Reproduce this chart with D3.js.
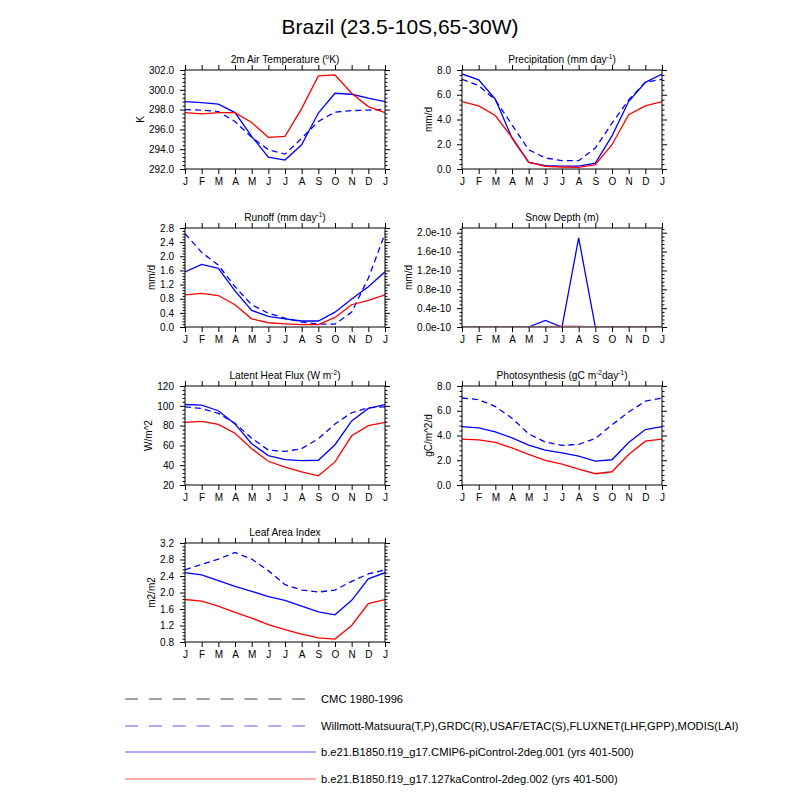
<!DOCTYPE html>
<html>
<head>
<meta charset="utf-8">
<script src="https://cdn.jsdelivr.net/npm/d3@7"></script>
<style>
  body { margin: 0; background: #fff; }
  svg { font-family: "Liberation Sans", Arial, Helvetica, sans-serif; }
</style>
</head>
<body>
<svg id="chart" width="800" height="800"></svg>
<script>
// ---------------- data ----------------
const months = ["J","F","M","A","M","J","J","A","S","O","N","D","J"];

// 2m air temperature (K)
const tsaObs = [298.0, 297.95, 297.8, 296.8, 295.2, 293.95, 293.5, 295.1, 296.8, 297.75, 297.9, 297.95, 298.0];
const tsaCtl = [298.8, 298.7, 298.55, 297.7, 295.3, 293.2, 292.9, 294.45, 297.65, 299.65, 299.55, 299.15, 298.8];
const tsa127 = [297.7, 297.57, 297.7, 297.7, 296.7, 295.2, 295.3, 298.1, 301.4, 301.5, 299.65, 298.3, 297.7];

// precipitation (mm/d)
const prObs = [7.25, 6.74, 5.58, 3.57, 1.56, 0.89, 0.67, 0.67, 1.69, 3.7, 5.58, 7.0, 7.25];
const prCtl = [7.68, 7.2, 5.64, 2.5, 0.54, 0.27, 0.24, 0.24, 0.48, 2.68, 5.45, 7.0, 7.68];
const pr127 = [5.45, 5.1, 4.32, 2.55, 0.56, 0.21, 0.16, 0.13, 0.35, 1.96, 4.38, 5.1, 5.45];

// runoff (mm/d)
const roObs = [2.64, 2.11, 1.75, 1.14, 0.63, 0.39, 0.25, 0.14, 0.08, 0.08, 0.42, 1.38, 2.64];
const roCtl = [1.56, 1.77, 1.66, 1.02, 0.47, 0.30, 0.23, 0.17, 0.17, 0.42, 0.79, 1.14, 1.56];
const ro127 = [0.91, 0.95, 0.89, 0.63, 0.23, 0.12, 0.09, 0.07, 0.07, 0.27, 0.63, 0.75, 0.91];

// snow depth (m)
const snObs = null;
const snCtl = [0, 0, 0, 0, 0, 0.14e-10, 0, 1.89e-10, 0, 0, 0, 0, 0];
const sn127 = [0, 0, 0, 0, 0, 0.005e-10, 0.015e-10, 0.015e-10, 0, 0, 0, 0, 0];

// latent heat flux (W/m^2)
const lhObs = [99, 97.3, 92.3, 82.3, 67.3, 55.3, 54, 56.7, 66.7, 81.7, 93, 98, 99];
const lhCtl = [101.3, 100.7, 95, 81.7, 61.7, 49.7, 45.7, 44.7, 45, 60.7, 84.7, 97.3, 101.3];
const lh127 = [83.3, 84.3, 81.3, 72.3, 56.7, 44, 38, 33.3, 29.3, 43.3, 69.7, 80, 83.3];

// photosynthesis (gC/m^2/d)
const gppObs = [7.03, 6.9, 6.34, 5.4, 4.13, 3.47, 3.2, 3.28, 3.76, 4.86, 5.9, 6.77, 7.03];
const gppCtl = [4.72, 4.62, 4.3, 3.81, 3.22, 2.82, 2.6, 2.34, 1.93, 2.04, 3.44, 4.48, 4.72];
const gpp127 = [3.7, 3.65, 3.44, 3.0, 2.47, 1.99, 1.69, 1.29, 0.91, 1.07, 2.47, 3.54, 3.7];

// leaf area index (m2/m2)
const laiObs = [2.55, 2.68, 2.81, 2.97, 2.81, 2.53, 2.19, 2.06, 2.01, 2.06, 2.27, 2.45, 2.55];
const laiCtl = [2.48, 2.43, 2.29, 2.15, 2.03, 1.9, 1.81, 1.67, 1.53, 1.46, 1.81, 2.33, 2.48];
const lai127 = [1.83, 1.79, 1.67, 1.52, 1.38, 1.22, 1.1, 0.99, 0.9, 0.87, 1.2, 1.73, 1.83];

// y-axis tick values
const tsaTicks = [292, 294, 296, 298, 300, 302];
const prTicks = [0, 2, 4, 6, 8];
const roTicks = [0, 0.4, 0.8, 1.2, 1.6, 2.0, 2.4, 2.8];
const snTicks = [0, 0.4e-10, 0.8e-10, 1.2e-10, 1.6e-10, 2.0e-10];
const lhTicks = [20, 40, 60, 80, 100, 120];
const gppTicks = [0, 2, 4, 6, 8];
const laiTicks = [0.8, 1.2, 1.6, 2.0, 2.4, 2.8, 3.2];

const legendLabels = [
  "CMC 1980-1996",
  "Willmott-Matsuura(T,P),GRDC(R),USAF/ETAC(S),FLUXNET(LHF,GPP),MODIS(LAI)",
  "b.e21.B1850.f19_g17.CMIP6-piControl-2deg.001 (yrs 401-500)",
  "b.e21.B1850.f19_g17.127kaControl-2deg.002 (yrs 401-500)"
];

// ---------------- drawing ----------------
const svg = d3.select("#chart");
const W = 200, H = 99;

svg.append("text").attr("x", 400).attr("y", 34).attr("text-anchor", "middle")
  .attr("font-size", 21).text("Brazil (23.5-10S,65-30W)");

const panels = [
  {x:185, y:70, title:[["2m Air Temperature (",0],["o",1],["K)",0]], ylabel:"K", dom:[292,302], ticks:tsaTicks, fmt:d3.format(".1f"), obs:tsaObs, ctl:tsaCtl, k127:tsa127},
  {x:462, y:70, title:[["Precipitation (mm day",0],["-1",1],[")",0]], ylabel:"mm/d", dom:[0,8], ticks:prTicks, fmt:d3.format(".1f"), obs:prObs, ctl:prCtl, k127:pr127},
  {x:185, y:228, title:[["Runoff (mm day",0],["-1",1],[")",0]], ylabel:"mm/d", dom:[0,2.8], ticks:roTicks, fmt:d3.format(".1f"), obs:roObs, ctl:roCtl, k127:ro127},
  {x:462, y:228, title:[["Snow Depth (m)",0]], ylabel:"mm/d", dom:[0,2.1e-10], ticks:snTicks, fmt:v => (v/1e-10).toFixed(1)+"e-10", obs:snObs, ctl:snCtl, k127:sn127},
  {x:185, y:386, title:[["Latent Heat Flux (W m",0],["-2",1],[")",0]], ylabel:"W/m^2", dom:[20,120], ticks:lhTicks, fmt:d3.format("d"), obs:lhObs, ctl:lhCtl, k127:lh127},
  {x:462, y:386, title:[["Photosynthesis (gC m",0],["-2",1],["day",0],["-1",1],[")",0]], ylabel:"gC/m^2/d", dom:[0,8], ticks:gppTicks, fmt:d3.format(".1f"), obs:gppObs, ctl:gppCtl, k127:gpp127},
  {x:185, y:543, title:[["Leaf Area Index",0]], ylabel:"m2/m2", dom:[0.8,3.2], ticks:laiTicks, fmt:d3.format(".1f"), obs:laiObs, ctl:laiCtl, k127:lai127}
];

panels.forEach((p, pi) => {
  const g = svg.append("g").attr("transform", `translate(${p.x},${p.y})`);
  const x = d3.scaleLinear().domain([0, 12]).range([0, W]);
  const y = d3.scaleLinear().domain(p.dom).range([H, 0]);

  // minor ticks
  const step = p.ticks[1] - p.ticks[0];
  const minors = [];
  for (let k = 0; ; k++) {
    const v = p.ticks[0] + k * step / 5;
    if (v > p.dom[1] + step * 1e-6) break;
    if (k % 5 !== 0) minors.push(v);
  }

  const clipId = "clip" + pi;
  g.append("clipPath").attr("id", clipId).append("rect").attr("y", 0.6).attr("width", W).attr("height", H - 1.3);
  const line = d3.line().defined(d => d != null).x((d, i) => x(i)).y(d => y(d));
  const lg = g.append("g").attr("clip-path", `url(#${clipId})`);
  const series = [
    {data: p.obs, color: "#0000ff", dash: "6,4"},
    {data: p.ctl, color: "#0000ff", dash: null},
    {data: p.k127, color: "#ff0000", dash: null}
  ];
  series.forEach(s => {
    if (!s.data) return;
    lg.append("path").datum(s.data).attr("d", line)
      .attr("fill", "none").attr("stroke", s.color).attr("stroke-width", 1.3)
      .attr("stroke-dasharray", s.dash);
  });

  // axes
  const ax = (sel) => { sel.select(".domain").remove(); sel.selectAll("line").attr("stroke", "#000"); sel.selectAll("text").attr("fill", "#000").attr("font-size", 10).attr("font-family", null); };
  const yl = g.append("g").call(d3.axisLeft(y).tickValues(p.ticks).tickFormat(p.fmt).tickSize(5).tickPadding(6)).call(ax);
  g.append("g").call(d3.axisLeft(y).tickValues(minors).tickFormat("").tickSize(2.5)).call(ax);
  g.append("g").attr("transform", `translate(${W},0)`).call(d3.axisRight(y).tickValues(p.ticks).tickFormat("").tickSize(5)).call(ax);
  g.append("g").attr("transform", `translate(${W},0)`).call(d3.axisRight(y).tickValues(minors).tickFormat("").tickSize(2.5)).call(ax);
  g.append("g").attr("transform", `translate(0,${H})`).call(d3.axisBottom(x).tickValues(d3.range(13)).tickFormat(i => months[i]).tickSize(5).tickPadding(4)).call(ax);
  g.append("g").call(d3.axisTop(x).tickValues(d3.range(13)).tickFormat("").tickSize(5)).call(ax);
  g.append("rect").attr("width", W).attr("height", H).attr("fill", "none").attr("stroke", "#000").attr("stroke-width", 1);

  // y label
  let maxW = 0;
  yl.selectAll("text").each(function() { maxW = Math.max(maxW, this.getComputedTextLength()); });
  const lx = -(5 + 6 + maxW + 5);
  g.append("text").attr("transform", `translate(${lx},${H/2}) rotate(-90)`)
    .attr("text-anchor", "middle").attr("font-size", 10).text(p.ylabel);

  // title with superscripts
  const t = g.append("text").attr("x", W/2).attr("y", -7).attr("text-anchor", "middle").attr("font-size", 10.2);
  let prevSup = false;
  p.title.forEach(([s, sup]) => {
    const ts = t.append("tspan").text(s);
    if (sup) ts.attr("font-size", 6.5).attr("dy", prevSup ? 0 : -4);
    else ts.attr("dy", prevSup ? 4 : 0);
    prevSup = !!sup;
  });
});

// legend
const legendStyles = [
  {color: "#444444", dash: "13,10.9", x2: 305},
  {color: "#5a5aff", dash: "13,10.9", x2: 305},
  {color: "#5a5aff", dash: null, x2: 316},
  {color: "#ff5a5a", dash: null, x2: 316}
];
const legendY = [699, 726, 752, 779];
legendLabels.forEach((lab, i) => {
  const st = legendStyles[i];
  svg.append("line").attr("x1", 125).attr("x2", st.x2).attr("y1", legendY[i]).attr("y2", legendY[i])
    .attr("stroke", st.color).attr("stroke-width", 1).attr("stroke-dasharray", st.dash);
  svg.append("text").attr("x", 321).attr("y", legendY[i]).attr("dy", "0.35em")
    .attr("font-size", 11.2).text(lab);
});
</script>
</body>
</html>
